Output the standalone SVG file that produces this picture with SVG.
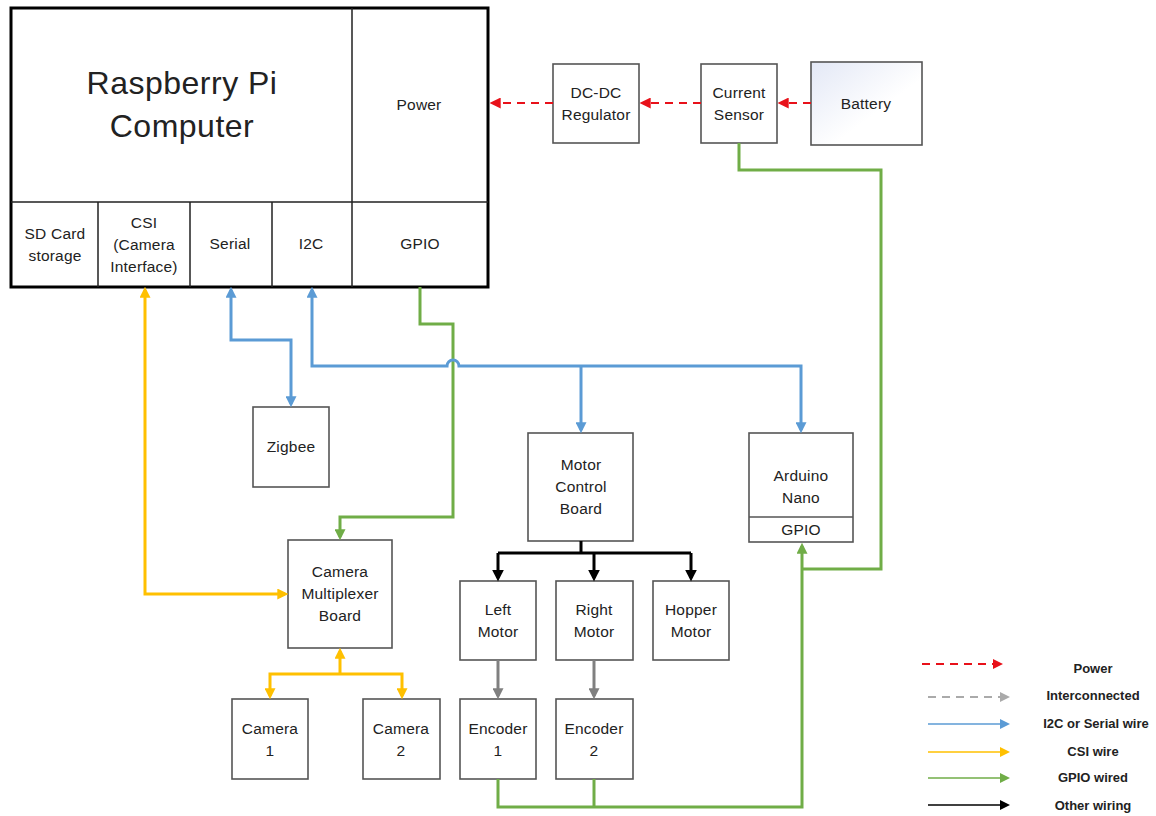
<svg xmlns="http://www.w3.org/2000/svg" width="1156" height="816" viewBox="0 0 1156 816">
<style>
.box{fill:#fff;stroke:#555;stroke-width:1.6}
.t{font-family:"Liberation Sans",Arial,sans-serif;font-size:15.5px;fill:#222;text-anchor:middle;letter-spacing:0.2px}
.lg{font-family:"Liberation Sans",Arial,sans-serif;font-size:13px;font-weight:bold;fill:#222;text-anchor:middle}
.c{fill:none;stroke-width:3;stroke-linejoin:miter}
.blue{stroke:#5B9BD5}.yel{stroke:#FFC000}.grn{stroke:#70AD47}.blk{stroke:#000}.gry{stroke:#808080}
.red{fill:none;stroke:#E8111A;stroke-width:2;stroke-dasharray:8,6}
</style>
<defs>
<linearGradient id="bat" x1="0" y1="0" x2="1" y2="1"><stop offset="0" stop-color="#E3E8F6"/><stop offset="0.6" stop-color="#fff"/></linearGradient>
<marker id="aB" viewBox="0 0 10 10" refX="7" refY="5" markerWidth="11" markerHeight="11" markerUnits="userSpaceOnUse" orient="auto-start-reverse"><path d="M0,0L10,5L0,10z" fill="#5B9BD5"/></marker>
<marker id="aY" viewBox="0 0 10 10" refX="7" refY="5" markerWidth="11" markerHeight="11" markerUnits="userSpaceOnUse" orient="auto-start-reverse"><path d="M0,0L10,5L0,10z" fill="#FFC000"/></marker>
<marker id="aG" viewBox="0 0 10 10" refX="7" refY="5" markerWidth="11" markerHeight="11" markerUnits="userSpaceOnUse" orient="auto-start-reverse"><path d="M0,0L10,5L0,10z" fill="#70AD47"/></marker>
<marker id="aK" viewBox="0 0 10 10" refX="7" refY="5" markerWidth="12" markerHeight="12" markerUnits="userSpaceOnUse" orient="auto-start-reverse"><path d="M0,0L10,5L0,10z" fill="#000"/></marker>
<marker id="aS" viewBox="0 0 10 10" refX="7" refY="5" markerWidth="11" markerHeight="11" markerUnits="userSpaceOnUse" orient="auto-start-reverse"><path d="M0,0L10,5L0,10z" fill="#808080"/></marker>
<marker id="aR" viewBox="0 0 10 10" refX="7" refY="5" markerWidth="11" markerHeight="11" markerUnits="userSpaceOnUse" orient="auto-start-reverse"><path d="M0,0L10,5L0,10z" fill="#E8111A"/></marker>
<marker id="lR" viewBox="0 0 10 10" refX="7" refY="5" markerWidth="10" markerHeight="10" markerUnits="userSpaceOnUse" orient="auto"><path d="M0,0L10,5L0,10z" fill="#E8111A"/></marker>
<marker id="lS" viewBox="0 0 10 10" refX="7" refY="5" markerWidth="10" markerHeight="10" markerUnits="userSpaceOnUse" orient="auto"><path d="M0,0L10,5L0,10z" fill="#AAAAAA"/></marker>
<marker id="lB" viewBox="0 0 10 10" refX="7" refY="5" markerWidth="10" markerHeight="10" markerUnits="userSpaceOnUse" orient="auto"><path d="M0,0L10,5L0,10z" fill="#5B9BD5"/></marker>
<marker id="lY" viewBox="0 0 10 10" refX="7" refY="5" markerWidth="10" markerHeight="10" markerUnits="userSpaceOnUse" orient="auto"><path d="M0,0L10,5L0,10z" fill="#FFC000"/></marker>
<marker id="lG" viewBox="0 0 10 10" refX="7" refY="5" markerWidth="10" markerHeight="10" markerUnits="userSpaceOnUse" orient="auto"><path d="M0,0L10,5L0,10z" fill="#70AD47"/></marker>
<marker id="lK" viewBox="0 0 10 10" refX="7" refY="5" markerWidth="10" markerHeight="10" markerUnits="userSpaceOnUse" orient="auto"><path d="M0,0L10,5L0,10z" fill="#000"/></marker>
</defs>
<rect width="1156" height="816" fill="#fff"/>

<g id="raspberry-pi">
<rect x="11" y="8" width="477" height="279" fill="#fff" stroke="#000" stroke-width="3"/>
<path d="M11,202H488M352,8V287M98,202V287M190,202V287M272,202V287" stroke="#222" stroke-width="1.5" fill="none"/>
<text class="t" x="182" y="94" style="font-size:32px;letter-spacing:0.5px">Raspberry Pi</text>
<text class="t" x="182" y="137" style="font-size:32px;letter-spacing:0.5px">Computer</text>
<text class="t" x="419" y="110">Power</text>
<text class="t" x="55" y="239">SD Card</text>
<text class="t" x="55" y="261">storage</text>
<text class="t" x="144" y="228">CSI</text>
<text class="t" x="144" y="250">(Camera</text>
<text class="t" x="144" y="272">Interface)</text>
<text class="t" x="230" y="249">Serial</text>
<text class="t" x="311" y="249">I2C</text>
<text class="t" x="420" y="249">GPIO</text>
</g>

<g id="dcdc"><rect class="box" x="553" y="64" width="86" height="79"/><text class="t" x="596" y="98">DC-DC</text><text class="t" x="596" y="120">Regulator</text></g>
<g id="current-sensor"><rect class="box" x="701" y="64" width="76" height="79"/><text class="t" x="739" y="98">Current</text><text class="t" x="739" y="120">Sensor</text></g>
<g id="battery"><rect class="box" x="811" y="62" width="111" height="83" style="fill:url(#bat)"/><text class="t" x="866" y="109">Battery</text></g>
<g id="zigbee"><rect class="box" x="253" y="407" width="76" height="80"/><text class="t" x="291" y="452">Zigbee</text></g>
<g id="motor-control"><rect class="box" x="528" y="433" width="105" height="108"/><text class="t" x="581" y="470">Motor</text><text class="t" x="581" y="492">Control</text><text class="t" x="581" y="514">Board</text></g>
<g id="arduino"><rect class="box" x="749" y="433" width="104" height="109"/><path d="M749,517H853" stroke="#555" stroke-width="1.5"/><text class="t" x="801" y="481">Arduino</text><text class="t" x="801" y="503">Nano</text><text class="t" x="801" y="535">GPIO</text></g>
<g id="camera-mux"><rect class="box" x="288" y="540" width="104" height="108"/><text class="t" x="340" y="577">Camera</text><text class="t" x="340" y="599">Multiplexer</text><text class="t" x="340" y="621">Board</text></g>
<g id="left-motor"><rect class="box" x="460" y="581" width="76" height="79"/><text class="t" x="498" y="615">Left</text><text class="t" x="498" y="637">Motor</text></g>
<g id="right-motor"><rect class="box" x="556" y="581" width="77" height="79"/><text class="t" x="594" y="615">Right</text><text class="t" x="594" y="637">Motor</text></g>
<g id="hopper-motor"><rect class="box" x="653" y="581" width="76" height="79"/><text class="t" x="691" y="615">Hopper</text><text class="t" x="691" y="637">Motor</text></g>
<g id="encoder1"><rect class="box" x="460" y="699" width="76" height="80"/><text class="t" x="498" y="734">Encoder</text><text class="t" x="498" y="756">1</text></g>
<g id="encoder2"><rect class="box" x="556" y="699" width="77" height="80"/><text class="t" x="594" y="734">Encoder</text><text class="t" x="594" y="756">2</text></g>
<g id="camera1"><rect class="box" x="232" y="699" width="76" height="80"/><text class="t" x="270" y="734">Camera</text><text class="t" x="270" y="756">1</text></g>
<g id="camera2"><rect class="box" x="363" y="699" width="77" height="80"/><text class="t" x="401" y="734">Camera</text><text class="t" x="401" y="756">2</text></g>

<g id="connectors">
<path class="red" d="M553,103H493" marker-end="url(#aR)"/>
<path class="red" d="M701,103H643" marker-end="url(#aR)"/>
<path class="red" d="M811,103H781" marker-end="url(#aR)"/>
<path class="c grn" d="M739,143V170H881V569H802"/>
<path class="c grn" d="M498,779V807H802V546" marker-end="url(#aG)"/>
<path class="c grn" d="M594,779V807"/>
<path class="c grn" d="M420,287V324H453V517H340V537" marker-end="url(#aG)"/>
<path class="c blue" d="M231,290V340H291V404" marker-start="url(#aB)" marker-end="url(#aB)"/>
<path class="c blue" d="M312,290V366H447A6,6 0 0 1 459,366H801V430" marker-start="url(#aB)" marker-end="url(#aB)"/>
<path class="c blue" d="M581,366V430" marker-end="url(#aB)"/>
<path class="c blk" d="M581,541V553M498,553H691"/>
<path class="c blk" d="M498,553V578" marker-end="url(#aK)"/>
<path class="c blk" d="M594,553V578" marker-end="url(#aK)"/>
<path class="c blk" d="M691,553V578" marker-end="url(#aK)"/>
<path class="c gry" d="M498,660V696" marker-end="url(#aS)"/>
<path class="c gry" d="M594,660V696" marker-end="url(#aS)"/>
<path class="c yel" d="M145,290V594H285" marker-start="url(#aY)" marker-end="url(#aY)"/>
<path class="c yel" d="M340,651V674" marker-start="url(#aY)"/>
<path class="c yel" d="M270,696V674H402V696" marker-start="url(#aY)" marker-end="url(#aY)"/>
</g>

<g id="legend">
<path d="M922,664H1000" fill="none" stroke="#E8111A" stroke-width="2" stroke-dasharray="8,6" marker-end="url(#lR)"/>
<text class="lg" x="1093" y="673">Power</text>
<path d="M928,697H1007" fill="none" stroke="#AAAAAA" stroke-width="2" stroke-dasharray="8,6" marker-end="url(#lS)"/>
<text class="lg" x="1093" y="700">Interconnected</text>
<path d="M928,724H1007" fill="none" stroke="#5B9BD5" stroke-width="1.5" marker-end="url(#lB)"/>
<text class="lg" x="1096" y="728">I2C  or Serial wire</text>
<path d="M928,752H1007" fill="none" stroke="#FFC000" stroke-width="1.5" marker-end="url(#lY)"/>
<text class="lg" x="1093" y="756">CSI wire</text>
<path d="M928,778H1007" fill="none" stroke="#70AD47" stroke-width="1.5" marker-end="url(#lG)"/>
<text class="lg" x="1093" y="782">GPIO wired</text>
<path d="M928,805H1007" fill="none" stroke="#000" stroke-width="1.5" marker-end="url(#lK)"/>
<text class="lg" x="1093" y="810">Other wiring</text>
</g>
</svg>
